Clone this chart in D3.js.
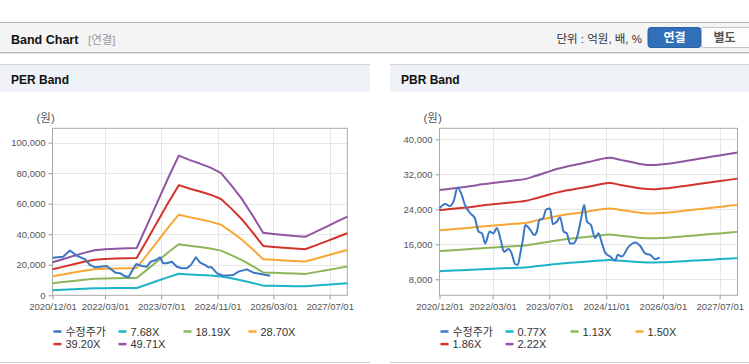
<!DOCTYPE html>
<html>
<head>
<meta charset="utf-8">
<script src="https://cdn.jsdelivr.net/npm/d3@7"></script>
<style>
html, body { margin: 0; padding: 0; background: #fff; }
svg { display: block; font-family: "Liberation Sans", "Noto Sans CJK KR", sans-serif; }
</style>
</head>
<body>
<svg id="chart" width="749" height="364"></svg>
<script>
"use strict";

// --- data ---

const xTickDates = ["2020-12-01", "2022-03-01", "2023-07-01", "2024-11-01", "2026-03-01", "2027-07-01"]
const xRange = ["2020-12-01", "2027-12-01"]

// band points (quarterly)
const bandDates = [
    "2020-12-01", "2021-03-01", "2021-06-01", "2021-09-01", "2021-12-01", "2022-03-01", "2022-06-01", "2022-09-01",
    "2022-12-01", "2023-03-01", "2023-06-01", "2023-09-01", "2023-12-01", "2024-03-01", "2024-06-01", "2024-09-01",
    "2024-12-01", "2025-03-01", "2025-06-01", "2025-09-01", "2025-12-01", "2026-03-01", "2026-06-01", "2026-09-01",
    "2026-12-01", "2027-03-01", "2027-06-01", "2027-09-01", "2027-12-01"
]

const perLegend = ["수정주가", "7.68X", "18.19X", "28.70X", "39.20X", "49.71X"]
const perYTicks = [0, 20000, 40000, 60000, 80000, 100000]
const perBand768 = [3340, 3650, 3990, 4300, 4560, 4670, 4710, 4760, 4790, 7110, 9500, 11900, 14140, 13700, 13330, 12920, 12360, 11120, 9730, 8080, 6330, 6210, 6100, 5990, 5920, 6410, 6920, 7450, 7960]
const perBand1819 = [7900, 8640, 9440, 10170, 10790, 11050, 11160, 11270, 11340, 16830, 22500, 28180, 33480, 32460, 31580, 30590, 29270, 26350, 23050, 19140, 15000, 14710, 14450, 14200, 14010, 15190, 16390, 17640, 18850]
const perBand2870 = [12470, 13630, 14900, 16050, 17030, 17440, 17610, 17780, 17900, 26560, 35510, 44460, 52830, 51210, 49830, 48270, 46190, 41570, 36370, 30200, 23670, 23210, 22810, 22400, 22110, 23960, 25870, 27830, 29730]
const perBand3920 = [17030, 18610, 20350, 21920, 23260, 23810, 24050, 24290, 24450, 36270, 48500, 60720, 72150, 69950, 68050, 65920, 63090, 56780, 49680, 41240, 32330, 31700, 31150, 30600, 30200, 32730, 35330, 38010, 40610]
const perBand4971 = [21600, 23600, 25800, 27800, 29500, 30200, 30500, 30800, 31000, 46000, 61500, 77000, 91500, 88700, 86300, 83600, 80000, 72000, 63000, 52300, 41000, 40200, 39500, 38800, 38300, 41500, 44800, 48200, 51500]

const perPriceDates = [
    "2020-12-03", "2021-03-03", "2021-05-01", "2021-07-01", "2021-09-10", "2021-10-21", "2021-12-06", "2022-01-18",
    "2022-03-15", "2022-04-12", "2022-05-27", "2022-07-10", "2022-08-21", "2022-09-21", "2022-10-18", "2022-11-27",
    "2023-01-15", "2023-02-27", "2023-04-01", "2023-05-18", "2023-06-21", "2023-07-18", "2023-08-18", "2023-10-01",
    "2023-11-15", "2023-12-27", "2024-02-09", "2024-03-15", "2024-04-27", "2024-06-03", "2024-07-15", "2024-08-15",
    "2024-09-12", "2024-10-27", "2024-12-21", "2025-03-18", "2025-05-01", "2025-07-12", "2025-09-09", "2025-11-21",
    "2026-02-01"
]
const perPriceValues = [
    24600, 25300, 29300, 25800, 23600, 19900, 18300, 18700,
    19200, 17700, 15000, 14400, 12600, 11800, 15500, 20500,
    19200, 18700, 22000, 23100, 24900, 21000, 21000, 22000,
    18700, 17700, 17700, 19900, 24900, 21400, 19900, 18300,
    18300, 14400, 12800, 13300, 15500, 17000, 14800, 13800,
    12800
]

const pbrLegend = ["수정주가", "0.77X", "1.13X", "1.50X", "1.86X", "2.22X"]
const pbrYTicks = [8000, 16000, 24000, 32000, 40000]
const pbrBand077 = [9850, 9960, 10060, 10160, 10300, 10400, 10510, 10610, 10720, 10960, 11230, 11510, 11730, 11900, 12070, 12280, 12420, 12240, 12070, 11900, 11830, 11900, 12000, 12140, 12280, 12420, 12560, 12700, 12840]
const pbrBand113 = [14450, 14610, 14760, 14920, 15120, 15270, 15420, 15570, 15730, 16080, 16490, 16890, 17210, 17460, 17720, 18020, 18230, 17970, 17720, 17460, 17360, 17460, 17620, 17820, 18020, 18230, 18430, 18630, 18840]
const pbrBand150 = [19190, 19400, 19590, 19800, 20070, 20270, 20480, 20670, 20880, 21350, 21890, 22430, 22850, 23180, 23520, 23930, 24200, 23850, 23520, 23180, 23040, 23180, 23390, 23660, 23930, 24200, 24470, 24740, 25010]
const pbrBand186 = [23790, 24050, 24290, 24550, 24890, 25130, 25390, 25630, 25890, 26470, 27140, 27810, 28330, 28740, 29160, 29670, 30000, 29570, 29160, 28740, 28570, 28740, 29000, 29330, 29670, 30000, 30340, 30670, 31010]
const pbrBand222 = [28400, 28700, 29000, 29300, 29700, 30000, 30300, 30600, 30900, 31600, 32400, 33200, 33800, 34300, 34800, 35400, 35800, 35300, 34800, 34300, 34100, 34300, 34600, 35000, 35400, 35800, 36200, 36600, 37000]

const pbrPriceDates = [
    "2020-12-01", "2021-01-19", "2021-03-01", "2021-04-04", "2021-05-04", "2021-06-10", "2021-07-07", "2021-08-22",
    "2021-10-01", "2021-11-01", "2021-12-01", "2021-12-28", "2022-02-04", "2022-03-07", "2022-04-07", "2022-05-10",
    "2022-06-07", "2022-07-16", "2022-08-13", "2022-09-10", "2022-10-04", "2022-10-25", "2022-11-16", "2022-12-07",
    "2023-01-19", "2023-02-22", "2023-03-16", "2023-04-07", "2023-05-07", "2023-06-04", "2023-07-07", "2023-08-01",
    "2023-09-04", "2023-10-01", "2023-11-01", "2023-11-28", "2023-12-25", "2024-01-25", "2024-02-21", "2024-03-28",
    "2024-04-25", "2024-05-19", "2024-06-22", "2024-07-28", "2024-08-25", "2024-09-25", "2024-10-22", "2024-12-04",
    "2025-01-16", "2025-02-07", "2025-03-13", "2025-05-10", "2025-07-07", "2025-08-19", "2025-10-01", "2025-11-13",
    "2025-12-25", "2026-02-01"
]
const pbrPriceValues = [
    24200, 25200, 24750, 26100, 29000, 27300, 25000, 23100,
    21900, 18900, 18500, 16200, 18900, 18500, 19700, 17000,
    14300, 14900, 13800, 11500, 11300, 13900, 17000, 20400,
    19300, 18100, 18900, 21600, 21900, 24000, 24200, 20600,
    21200, 22200, 18900, 18500, 16200, 16200, 17400, 21600,
    25000, 21200, 20400, 17400, 18500, 16200, 14100, 13200,
    12300, 13600, 13200, 15400, 16400, 15600, 13900, 13600,
    12600, 13000
]

const priceColor = "#3a78c6"
const bandColors = ["#1db3c7", "#8db65a", "#f6a734", "#d2342c", "#9156a1"]

// --- drawing ---

const svg = d3.select("#chart")
const parse = d3.timeParse("%Y-%m-%d")
const fmtDate = d3.timeFormat("%Y/%m/%d")
const fmtNum = d3.format(",")

function hline (g, x1, x2, y, color) {
    g.append("line").attr("x1", x1).attr("x2", x2).attr("y1", y).attr("y2", y)
        .attr("stroke", color).attr("stroke-width", 1)
}

function drawHeader () {
    const g = svg.append("g")
    g.append("rect").attr("x", 0).attr("y", 22).attr("width", 749).attr("height", 30).attr("fill", "#f4f4f4")
    hline(g, 0, 749, 22.5, "#b4b4b4")
    hline(g, 0, 749, 52.5, "#bdbdbd")
    hline(g, 0, 749, 53.5, "#e2e2e2")

    g.append("text").attr("x", 11).attr("y", 43.5)
        .attr("font-size", 12.5).attr("font-weight", 700).attr("fill", "#111")
        .text("Band Chart")
    g.append("text").attr("x", 88).attr("y", 43.5)
        .attr("font-size", 11.5).attr("fill", "#9a9a9a")
        .text("[연결]")

    g.append("text").attr("x", 642).attr("y", 43).attr("text-anchor", "end")
        .attr("font-size", 11.5).attr("fill", "#333")
        .text("단위 : 억원, 배, %")

    // toggle buttons
    g.append("rect").attr("x", 700.5).attr("y", 27.5).attr("width", 52).attr("height", 20).attr("rx", 3)
        .attr("fill", "#fdfdfd").attr("stroke", "#c4c4c4")
    g.append("rect").attr("x", 648).attr("y", 27.5).attr("width", 53).attr("height", 20).attr("rx", 3)
        .attr("fill", "#3170b8").attr("stroke", "#2a62a3")
    g.append("text").attr("x", 674.5).attr("y", 42).attr("text-anchor", "middle")
        .attr("font-size", 12).attr("font-weight", 700).attr("fill", "#fff").text("연결")
    g.append("text").attr("x", 724.5).attr("y", 42).attr("text-anchor", "middle")
        .attr("font-size", 12).attr("font-weight", 700).attr("fill", "#555").text("별도")
}

function drawPanel (p) {
    const g = svg.append("g")
    const plotTop = 128.3
    const plotBottom = 295.3

    g.append("rect").attr("x", p.left).attr("y", 64).attr("width", p.width).attr("height", 28).attr("fill", "#eef2f7")
    hline(g, p.left, p.left + p.width, 64.5, "#d4d4d4")
    hline(g, p.left, p.left + p.width, 362.5, "#d0d0d0")

    g.append("text").attr("x", p.left + 11).attr("y", 84)
        .attr("font-size", 12).attr("font-weight", 700).attr("fill", "#111")
        .text(p.title)

    g.append("text").attr("x", p.plotLeft - 16).attr("y", 122)
        .attr("font-size", 11.5).attr("fill", "#555").text("(원)")

    const x = d3.scaleTime().domain(xRange.map(parse)).range([p.plotLeft, p.plotRight])
    const y = d3.scaleLinear().domain(p.yDomain).range([plotBottom, plotTop])
    const xTicks = xTickDates.map(parse)

    // grid
    g.append("g").selectAll("line").data(p.yTicks.filter(v => y(v) < plotBottom - 1)).join("line")
        .attr("x1", p.plotLeft).attr("x2", p.plotRight)
        .attr("y1", d => Math.round(y(d)) + 0.5).attr("y2", d => Math.round(y(d)) + 0.5)
        .attr("stroke", "#e6e6e6")
    g.append("g").selectAll("line").data(xTicks.slice(1)).join("line")
        .attr("x1", d => Math.round(x(d)) + 0.5).attr("x2", d => Math.round(x(d)) + 0.5)
        .attr("y1", plotTop).attr("y2", plotBottom)
        .attr("stroke", "#e6e6e6")

    // axes
    const ya = g.append("g").attr("transform", `translate(${p.plotLeft},0)`)
        .call(d3.axisLeft(y).tickValues(p.yTicks).tickSize(4).tickPadding(3).tickFormat(fmtNum))
    ya.select(".domain").remove()
    ya.selectAll("line").attr("stroke", "#999")
    ya.selectAll("text").attr("font-size", 9.5).attr("fill", "#555")
        .style("font-family", "'Liberation Sans', sans-serif")

    const xa = g.append("g").attr("transform", `translate(0,${plotBottom})`)
        .call(d3.axisBottom(x).tickValues(xTicks).tickSize(4).tickPadding(4).tickFormat(fmtDate))
    xa.select(".domain").remove()
    xa.selectAll("line").attr("stroke", "#999")
    xa.selectAll("text").attr("font-size", 9.5).attr("fill", "#555")
        .style("font-family", "'Liberation Sans', sans-serif")

    // plot frame
    g.append("rect").attr("x", p.plotLeft).attr("y", plotTop)
        .attr("width", p.plotRight - p.plotLeft).attr("height", plotBottom - plotTop)
        .attr("fill", "none").attr("stroke", "#aaa")

    const line = d3.line().x(d => x(d.date)).y(d => y(d.value)).curve(p.curve)

    p.bands.forEach((vals, i) => {
        const pts = bandDates.map((d, j) => ({ date: parse(d), value: vals[j] }))
        g.append("path").datum(pts).attr("d", line)
            .attr("fill", "none").attr("stroke", bandColors[i]).attr("stroke-width", 2)
            .attr("stroke-linejoin", "round")
    })

    const pricePts = p.priceDates.map((d, j) => ({ date: parse(d), value: p.priceValues[j] }))
    g.append("path").datum(pricePts).attr("d", line)
        .attr("fill", "none").attr("stroke", priceColor).attr("stroke-width", 2)
        .attr("stroke-linejoin", "round")

    // legend
    const colors = [priceColor].concat(bandColors)
    const lg = g.append("g").selectAll("g").data(p.legend).join("g")
        .attr("transform", (d, i) => `translate(${p.plotLeft + 1 + (i % 4) * 65},${331.5 + Math.floor(i / 4) * 12.6})`)
    lg.append("line").attr("x1", 0).attr("x2", 8).attr("y1", 0).attr("y2", 0)
        .attr("stroke", (d, i) => colors[i]).attr("stroke-width", 2.5)
    lg.append("text").attr("x", 12).attr("y", 4)
        .attr("font-size", 11).attr("fill", "#333").text(d => d)
}

drawHeader()

drawPanel({
    left: 0, width: 370, title: "PER Band",
    plotLeft: 52.5, plotRight: 347.3,
    yDomain: [0, 109400], yTicks: perYTicks,
    bands: [perBand768, perBand1819, perBand2870, perBand3920, perBand4971],
    priceDates: perPriceDates, priceValues: perPriceValues,
    legend: perLegend, curve: d3.curveLinear
})

drawPanel({
    left: 390, width: 359, title: "PBR Band",
    plotLeft: 439.5, plotRight: 737.5,
    yDomain: [4343, 42514], yTicks: pbrYTicks,
    bands: [pbrBand077, pbrBand113, pbrBand150, pbrBand186, pbrBand222],
    priceDates: pbrPriceDates, priceValues: pbrPriceValues,
    legend: pbrLegend, curve: d3.curveMonotoneX
})
</script>
</body>
</html>
